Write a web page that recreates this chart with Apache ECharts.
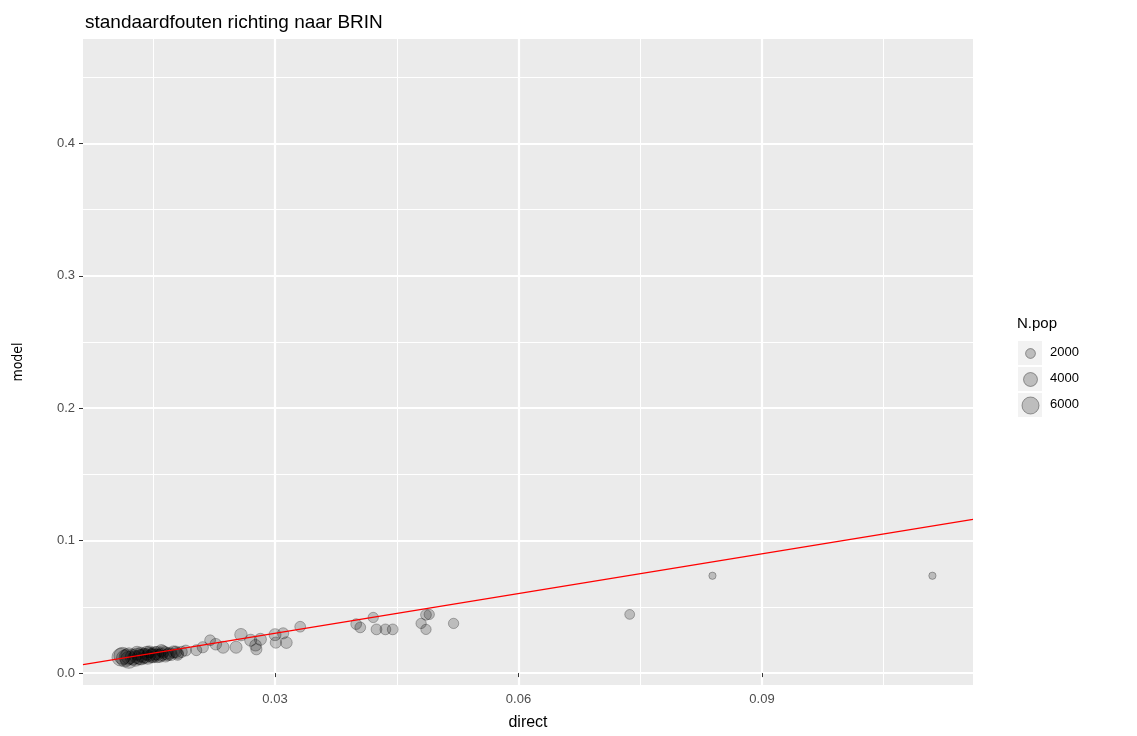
<!DOCTYPE html>
<html><head><meta charset="utf-8">
<script src="https://cdn.jsdelivr.net/npm/echarts@6/dist/echarts.min.js"></script>
<style>html,body{margin:0;padding:0;background:#fff}#c{width:1137px;height:736px}</style>
</head><body><div id="c"></div>
<script>
const directVals = [0.0110,0.0115,0.0120,0.0125,0.0130,0.0135,0.0140,0.0145,0.0150,0.0155,0.0160,0.0165,0.0170,0.0175,0.0180,0.0185,0.0120,0.0135,0.0150,0.0165,0.0180,0.0145,0.0160,0.0130,0.0190,
0.0112,0.0118,0.0128,0.0138,0.0142,0.0148,0.0152,0.0158,0.0162,0.0168,0.0172,0.0178,0.0133,0.0143,0.0155,
0.0203,0.0211,0.0220,0.0227,0.0236,0.0252,0.0258,0.0270,0.0276,0.0277,0.0282,0.0300,0.0301,0.0314,0.0310,0.0331,0.0400,0.0405,0.0421,0.0425,0.0436,0.0445,0.0480,0.0486,0.0486,0.0490,0.0520,0.0737,0.0839,0.1110];
const modelVals = [0.012,0.011,0.013,0.012,0.013,0.014,0.013,0.014,0.014,0.015,0.014,0.015,0.015,0.016,0.015,0.016,0.010,0.012,0.013,0.013,0.014,0.016,0.017,0.015,0.017,
0.013,0.012,0.011,0.013,0.015,0.013,0.015,0.013,0.016,0.014,0.014,0.016,0.012,0.012,0.013,
0.0173,0.0195,0.0248,0.0218,0.0195,0.0195,0.029,0.0248,0.021,0.018,0.0255,0.029,0.023,0.023,0.030,0.035,0.037,0.0345,0.042,0.033,0.033,0.033,0.0375,0.033,0.044,0.0443,0.0375,0.0443,0.0735,0.0735];
const popVals = [6500,6000,5500,5000,5000,4500,4500,4000,4000,3800,3500,3500,3000,3000,2800,2600,6000,5000,4000,3200,2800,3000,3000,4000,2500,
6000,5500,5000,4500,4000,4000,3800,3500,3200,3200,3000,2800,4500,4200,3800,
2500,2600,2400,2800,3000,3000,3200,3000,2800,2600,3000,3000,2600,2800,2600,2400,2400,2400,2200,2400,2400,2400,2200,2200,2400,2200,2200,2000,1100,1100];
const xMajor = [0.03,0.06,0.09];
const xMinor = [0.015,0.045,0.075,0.105];
const yMajor = [0.0,0.1,0.2,0.3,0.4];
const yMinor = [0.05,0.15,0.25,0.35,0.45];
const legendVals = [2000,4000,6000];
const xMin = 0.00634, xMax = 0.116, yMin = -0.009, yMax = 0.4788;
const sz = n => Math.sqrt(n) * 0.22;
const pts = directVals.map((d,i)=>[d, modelVals[i], popVals[i]]);
const chart = echarts.init(document.getElementById('c'));
const F = 'Liberation Sans, Arial';
const common = {axisLine:{show:false}, splitArea:{show:false}};
chart.setOption({
  animation:false,
  title:{text:'standaardfouten richting naar BRIN', left:80, top:8, textStyle:{fontFamily:F, fontSize:19, fontWeight:'normal', color:'#000'}},
  grid:{left:83, right:164, top:39, bottom:46, backgroundColor:'#ebebeb', show:true, borderWidth:0},
  xAxis:[
    {type:'value', min:xMin, max:xMax, ...common, name:'direct', nameLocation:'middle', nameGap:30,
     nameTextStyle:{fontFamily:F, fontSize:16, color:'#000'},
     axisTick:{show:true, length:4, customValues:xMajor, lineStyle:{color:'#333'}},
     axisLabel:{customValues:xMajor, formatter:v=>v.toFixed(2), color:'#4d4d4d', fontSize:13, fontFamily:F, margin:8},
     splitLine:{lineStyle:{color:'#fff', width:2.2}}},
    {type:'value', min:xMin, max:xMax, ...common, position:'bottom',
     axisTick:{show:false, customValues:xMinor}, axisLabel:{show:false, customValues:xMinor},
     splitLine:{lineStyle:{color:'#fff', width:1}}}
  ],
  yAxis:[
    {type:'value', min:yMin, max:yMax, ...common, name:'model', nameLocation:'middle', nameGap:58,
     nameTextStyle:{fontFamily:'DejaVu Sans Condensed, Liberation Sans Narrow, Arial', fontSize:14, color:'#000'},
     axisTick:{show:true, length:4, customValues:yMajor, lineStyle:{color:'#333'}},
     axisLabel:{customValues:yMajor, formatter:v=>v.toFixed(1), color:'#4d4d4d', fontSize:13, fontFamily:F, margin:8},
     splitLine:{lineStyle:{color:'#fff', width:2.2}}},
    {type:'value', min:yMin, max:yMax, ...common,
     axisTick:{show:false, customValues:yMinor}, axisLabel:{show:false, customValues:yMinor},
     splitLine:{lineStyle:{color:'#fff', width:1}}}
  ],
  series:[
    {type:'scatter', data:pts, symbolSize:p=>sz(p[2]),
     itemStyle:{color:'rgba(0,0,0,0.25)', borderColor:'rgba(0,0,0,0.35)', borderWidth:1}},
    {type:'line', data:[[xMin,xMin],[xMax,xMax]], showSymbol:false, symbol:'none', lineStyle:{color:'#ff0000', width:1.2}, z:5}
  ],
  graphic:[
    {type:'text', left:1017, top:316, style:{text:'N.pop', font:'15px "Liberation Sans", Arial', fill:'#000'}},
    ...legendVals.flatMap((v,i)=>[
      {type:'rect', left:1018, top:341+i*26, shape:{width:24,height:24}, style:{fill:'#f2f2f2'}},
      {type:'circle', left:1030-sz(v)/2, top:353+i*26-sz(v)/2, shape:{r:sz(v)/2}, style:{fill:'rgba(0,0,0,0.22)', stroke:'rgba(0,0,0,0.35)'}},
      {type:'text', left:1050, top:346+i*26, style:{text:String(v), font:'13px "Liberation Sans", Arial', fill:'#000'}}
    ])
  ]
});
</script></body></html>
